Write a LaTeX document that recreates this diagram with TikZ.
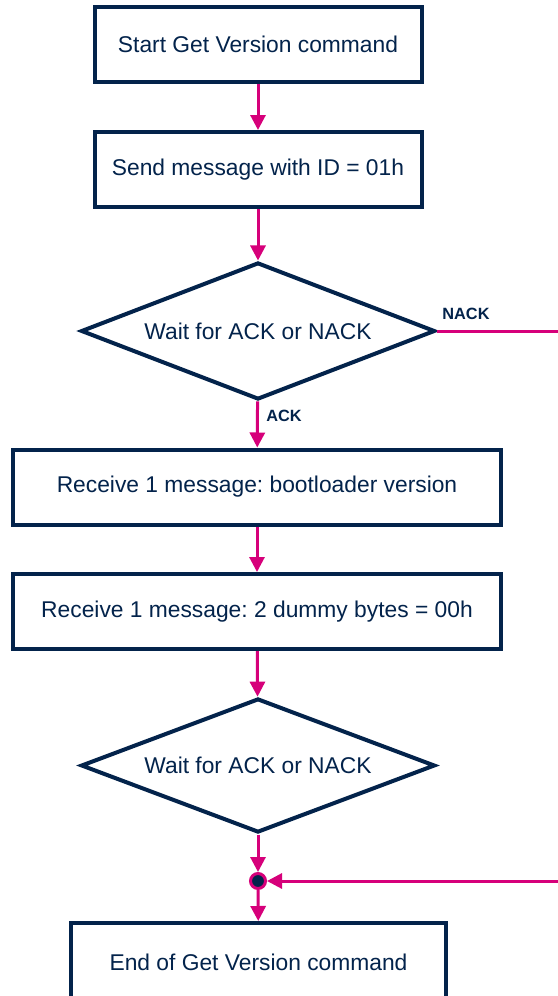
\documentclass[tikz,border=0pt]{standalone}
\usepackage{fontspec}
\setmainfont{Liberation Sans}
\usetikzlibrary{shapes.geometric,arrows.meta}
\definecolor{navy}{RGB}{3,35,75}
\definecolor{stpink}{RGB}{214,0,122}
\frenchspacing
\begin{document}
\begin{tikzpicture}[x=1pt,y=-1pt,
  box/.style={draw=navy,line width=4pt,fill=white,text=navy,
    font=\fontsize{22.8}{27}\selectfont,inner sep=0,align=center},
  dec/.style={diamond,draw=navy,line width=4pt,fill=white,text=navy,
    font=\fontsize{22.8}{27}\selectfont,inner sep=0,shape aspect=2.58,
    minimum width=354pt,minimum height=137pt},
  conn/.style={draw=stpink,line width=3pt,
    -{Triangle[width=15pt,length=15pt]}},
  lbl/.style={text=navy,font=\bfseries\fontsize{16.3}{19}\selectfont,inner sep=0}]
\useasboundingbox (0,0) rectangle (557,996);
\fill[white] (0,0) rectangle (557,996);
\node[box,minimum width=327pt,minimum height=75pt] (b1) at (258,44) {Start Get Version command};
\node[box,minimum width=327pt,minimum height=75pt] (b2) at (258,169.5) {Send message with ID = 01h};
\node[dec] (d1) at (258,331) {Wait for ACK or NACK};
\node[box,minimum width=488pt,minimum height=75pt] (b3) at (257,487) {Receive 1 message: bootloader version};
\node[box,minimum width=488pt,minimum height=75pt] (b4) at (257,611.5) {Receive 1 message: 2 dummy bytes = 00h};
\node[dec,minimum height=134pt,shape aspect=2.64] (d2) at (258,765.5) {Wait for ACK or NACK};
\node[box,minimum width=375pt,minimum height=78pt] (b5) at (258.5,962) {End of Get Version command};
\node[lbl] (nack) at (466,314) {NACK};
\node[lbl] (ack) at (284,416) {ACK};
\coordinate (r1) at (580,331);
\coordinate (r2) at (580,881);
\draw[conn] (b1) -- (b2);
\draw[conn] (b2) -- (d1);
\draw[conn] (d1) -- (b3);
\draw[conn] (b3) -- (b4);
\draw[conn] (b4) -- (d2);
\node[circle,fill=navy,draw=stpink,line width=3pt,minimum size=15pt,inner sep=0] (j) at (258,881) {};
\draw[conn] (d2) -- (j);
\draw[conn] (j) -- (b5);
\draw[conn] (d1.east) -- (r1) -- (r2) -- (j);
\end{tikzpicture}
\end{document}
